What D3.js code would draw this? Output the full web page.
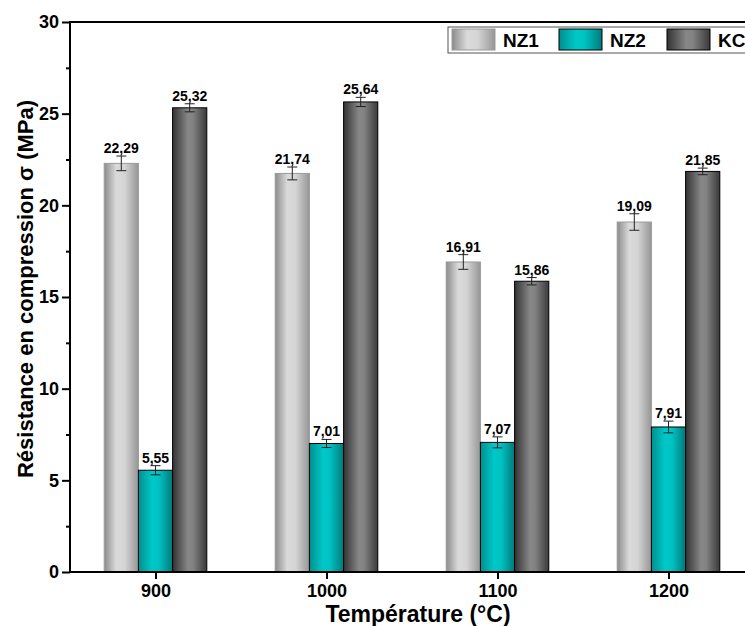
<!DOCTYPE html>
<html>
<head>
<meta charset="utf-8">
<script src="https://cdn.jsdelivr.net/npm/d3@7"></script>
<style>
  body { margin: 0; background: #fff; overflow: hidden; }
  text { font-family: "Liberation Sans", Arial, sans-serif; font-weight: bold; }
</style>
</head>
<body>
<div id="wrapper"></div>
<script>
// data
const temps = [900, 1000, 1100, 1200]
const seriesNames = ["NZ1", "NZ2", "KC"]
const nz1 = [22.29, 21.74, 16.91, 19.09]
const nz2 = [5.55, 7.01, 7.07, 7.91]
const kc = [25.32, 25.64, 15.86, 21.85]
const nz1Err = [0.4, 0.35, 0.4, 0.45]
const nz2Err = [0.25, 0.22, 0.3, 0.32]
const kcErr = [0.22, 0.25, 0.2, 0.18]
const yTicks = [0, 5, 10, 15, 20, 25, 30]

const dimensions = {
    width: 745,
    height: 626,
    margin: { top: 22, right: 0, bottom: 54, left: 70 },
}
const plotBottom = dimensions.height - dimensions.margin.bottom  // 572

const wrapper = d3.select("#wrapper")
    .append("svg")
    .attr("width", dimensions.width)
    .attr("height", dimensions.height)
    .style("display", "block")

const defs = wrapper.append("defs")
const gradients = [
    { id: "gNZ1", stops: [["0%", "#8c8c8c"], ["35%", "#dadada"], ["60%", "#d4d4d4"], ["100%", "#969696"]] },
    { id: "gNZ2", stops: [["0%", "#008f8f"], ["40%", "#00c8c8"], ["60%", "#00c2c2"], ["100%", "#007a7a"]] },
    { id: "gKC", stops: [["0%", "#333333"], ["45%", "#878787"], ["60%", "#828282"], ["100%", "#3a3a3a"]] },
]
gradients.forEach(g => {
    const lg = defs.append("linearGradient").attr("id", g.id)
        .attr("x1", "0%").attr("x2", "100%").attr("y1", "0%").attr("y2", "0%")
    g.stops.forEach(s => lg.append("stop").attr("offset", s[0]).attr("stop-color", s[1]))
})
const strokes = ["#9a9a9a", "#000", "#000"]

// scales (x axis runs past the right edge of the window, like the original)
const xScaler = d3.scaleLinear()
    .domain([850, 1250])
    .range([dimensions.margin.left, dimensions.margin.left + 400 * 1.71])

const yScaler = d3.scaleLinear()
    .domain([0, 30])
    .range([plotBottom, dimensions.margin.top])

const series = [
    { name: seriesNames[0], values: nz1, err: nz1Err, offset: -20 },
    { name: seriesNames[1], values: nz2, err: nz2Err, offset: 0 },
    { name: seriesNames[2], values: kc, err: kcErr, offset: 20 },
]
const barW = 20

// bars
series.forEach((s, si) => {
    const g = wrapper.append("g")
    const rows = temps.map((t, i) => ({ t: t, v: s.values[i], e: s.err[i] }))
    g.selectAll("rect").data(rows).enter().append("rect")
        .attr("x", d => xScaler(d.t + s.offset - barW / 2))
        .attr("y", d => yScaler(d.v))
        .attr("width", d => xScaler(d.t + barW / 2) - xScaler(d.t - barW / 2))
        .attr("height", d => yScaler(0) - yScaler(d.v))
        .attr("fill", `url(#${gradients[si].id})`)
        .attr("stroke", strokes[si])
        .attr("stroke-width", 1)

    // error bars
    const eb = g.selectAll(".eb").data(rows).enter().append("g")
    eb.append("line")
        .attr("x1", d => xScaler(d.t + s.offset)).attr("x2", d => xScaler(d.t + s.offset))
        .attr("y1", d => yScaler(d.v - d.e)).attr("y2", d => yScaler(d.v + d.e))
        .attr("stroke", "#222").attr("stroke-width", 1)
    ;[-1, 1].forEach(sign => {
        eb.append("line")
            .attr("x1", d => xScaler(d.t + s.offset) - 5).attr("x2", d => xScaler(d.t + s.offset) + 5)
            .attr("y1", d => yScaler(d.v + sign * d.e)).attr("y2", d => yScaler(d.v + sign * d.e))
            .attr("stroke", "#222").attr("stroke-width", 1)
    })
    g.selectAll(".lbl").data(rows).enter().append("text")
        .attr("x", d => xScaler(d.t + s.offset))
        .attr("y", d => yScaler(d.v + d.e) - 3)
        .attr("text-anchor", "middle")
        .attr("font-size", "14px")
        .attr("fill", "#000")
        .text(d => d3.format(".2f")(d.v).replace(".", ","))
})

// axes
const yAxisGen = d3.axisLeft(yScaler).tickValues(yTicks).tickSize(8).tickPadding(3)
const yAxis = wrapper.append("g")
    .attr("transform", `translate(${dimensions.margin.left},0)`)
    .call(yAxisGen)
yAxis.select(".domain").remove()
yAxis.selectAll("line").attr("stroke-width", 2)
yAxis.selectAll("text").attr("font-size", "18px").attr("font-weight", "bold")
    .attr("font-family", "Liberation Sans, Arial, sans-serif")

const yMinor = wrapper.append("g")
    .attr("transform", `translate(${dimensions.margin.left},0)`)
    .call(d3.axisLeft(yScaler).tickValues(d3.range(2.5, 30, 5)).tickSize(4).tickFormat(""))
yMinor.select(".domain").remove()
yMinor.selectAll("line").attr("stroke-width", 2)

const xAxisGen = d3.axisBottom(xScaler).tickValues(temps).tickSize(7).tickPadding(5).tickFormat(d3.format("d"))
const xAxis = wrapper.append("g")
    .attr("transform", `translate(0,${plotBottom})`)
    .call(xAxisGen)
xAxis.select(".domain").remove()
xAxis.selectAll("line").attr("stroke-width", 2)
xAxis.selectAll("text").attr("font-size", "18px").attr("font-weight", "bold")
    .attr("font-family", "Liberation Sans, Arial, sans-serif")

// frame lines
const x0 = dimensions.margin.left
const x1 = xScaler(1250)
wrapper.append("line").attr("x1", x0).attr("x2", x0)
    .attr("y1", yScaler(30) - 1).attr("y2", plotBottom + 1)
    .attr("stroke", "#000").attr("stroke-width", 2)
wrapper.append("line").attr("x1", x0 - 1).attr("x2", x1)
    .attr("y1", plotBottom).attr("y2", plotBottom)
    .attr("stroke", "#000").attr("stroke-width", 2)
wrapper.append("line").attr("x1", x0 - 1).attr("x2", x1)
    .attr("y1", yScaler(30)).attr("y2", yScaler(30))
    .attr("stroke", "#000").attr("stroke-width", 2)

// axis titles
wrapper.append("text")
    .attr("x", 418).attr("y", 622)
    .attr("text-anchor", "middle")
    .attr("font-size", "23px")
    .text("Température (°C)")

wrapper.append("text")
    .attr("transform", `translate(33,289) rotate(-90)`)
    .attr("text-anchor", "middle")
    .attr("font-size", "22px")
    .text("Résistance en compression σ (MPa)")

// legend
const legend = wrapper.append("g")
legend.append("rect")
    .attr("x", 448).attr("y", 27).attr("width", 320).attr("height", 26)
    .attr("fill", "#fff").attr("stroke", "#555").attr("stroke-width", 1)
const legendX = [452, 559, 667]
series.forEach((s, si) => {
    legend.append("rect")
        .attr("x", legendX[si]).attr("y", 29).attr("width", 43).attr("height", 21)
        .attr("fill", `url(#${gradients[si].id})`)
        .attr("stroke", strokes[si]).attr("stroke-width", 1)
    legend.append("text")
        .attr("x", legendX[si] + 51).attr("y", 47)
        .attr("font-size", "19px")
        .text(s.name)
})
</script>
</body>
</html>
